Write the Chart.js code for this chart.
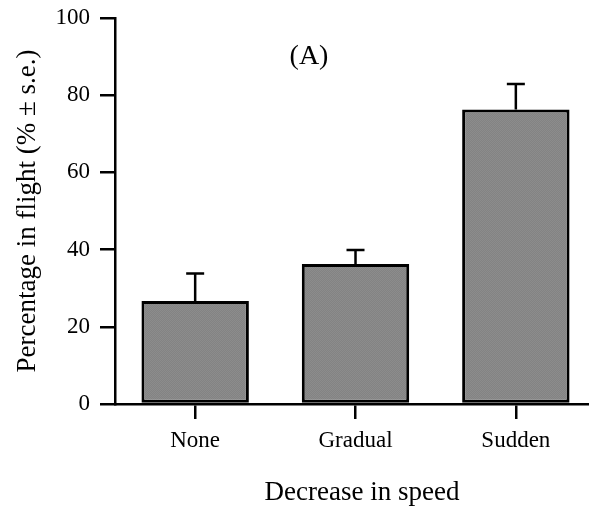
<!DOCTYPE html>
<html>
<head>
<meta charset="utf-8">
<script src="https://cdn.jsdelivr.net/npm/chart.js@4/dist/chart.umd.min.js"></script>
<style>
html,body{margin:0;padding:0;background:#fff;}
#wrap{width:589px;height:520px;}
</style>
</head>
<body>
<div id="wrap"><canvas id="c" width="589" height="520"></canvas></div>
<script>
const categories = ["None", "Gradual", "Sudden"];
const means = [26.7, 36.3, 76.3];
const stdErrors = [7.1, 3.6, 6.6];
const yTicks = [0, 20, 40, 60, 80, 100];
const panelLabel = "(A)";
const xTitle = "Decrease in speed";
const yTitle = "Percentage in flight (% \u00b1 s.e.)";

const FONT = "'Liberation Serif', 'Times New Roman', serif";

// textured gray fill
const pc = document.createElement('canvas');
pc.width = 2; pc.height = 2;
const pctx = pc.getContext('2d');
pctx.fillStyle = '#838383'; pctx.fillRect(0,0,2,2);
pctx.fillStyle = '#8c8c8c'; pctx.fillRect(0,0,1,1); pctx.fillRect(1,1,1,1);
const fillPattern = document.getElementById('c').getContext('2d').createPattern(pc, 'repeat');

const errorBars = {
  id: 'errorBars',
  afterDatasetsDraw(chart) {
    const {ctx, scales: {x, y}} = chart;
    ctx.save();
    ctx.strokeStyle = '#000';
    ctx.lineWidth = 2.5;
    ctx.lineCap = 'butt';
    means.forEach((m, i) => {
      const px = x.getPixelForValue(i);
      const y0 = y.getPixelForValue(m);
      const y1 = y.getPixelForValue(m + stdErrors[i]);
      ctx.beginPath();
      ctx.moveTo(px, y0);
      ctx.lineTo(px, y1);
      ctx.moveTo(px - 9, y1);
      ctx.lineTo(px + 9, y1);
      ctx.stroke();
    });
    ctx.restore();
  }
};

const texts = {
  id: 'texts',
  afterDraw(chart) {
    const {ctx, scales: {x, y}} = chart;
    ctx.save();
    ctx.fillStyle = '#000';
    ctx.textAlign = 'center';
    ctx.textBaseline = 'middle';
    ctx.font = "28px " + FONT;
    ctx.fillText(panelLabel, x.getPixelForValue(0.71), y.getPixelForValue(90));
    ctx.font = "27px " + FONT;
    ctx.fillText(xTitle, 362, 493);
    ctx.restore();
  }
};

new Chart(document.getElementById('c'), {
  type: 'bar',
  data: {
    datasets: [{
      data: categories.map((c, i) => ({x: i, y: means[i]})),
      backgroundColor: fillPattern,
      borderColor: '#000',
      borderWidth: 3,
      borderSkipped: false,
      categoryPercentage: 1,
      barPercentage: 0.67
    }]
  },
  options: {
    responsive: false,
    animation: false,
    devicePixelRatio: 1,
    layout: {padding: {top: 18, right: 1, left: 0, bottom: 0}},
    plugins: {legend: {display: false}, tooltip: {enabled: false}, title: {display: false}},
    scales: {
      x: {
        type: 'linear',
        offset: false,
        min: -0.5,
        max: 2.45,
        afterBuildTicks: s => { s.ticks = categories.map((c, i) => ({value: i})); },
        afterFit: s => { s.height = 116; s.paddingLeft = 0; s.paddingRight = 0; },
        ticks: {
          callback: v => categories[v],
          color: '#000',
          font: {family: FONT, size: 23},
          padding: 8,
          maxRotation: 0,
          autoSkip: false
        },
        grid: {offset: false, drawOnChartArea: false, drawTicks: true, tickLength: 15, tickColor: '#000', lineWidth: 2.5},
        border: {display: true, color: '#000', width: 2.5},
        title: {display: false}
      },
      y: {
        min: 0,
        max: 100,
        afterBuildTicks: s => { s.ticks = yTicks.map(v => ({value: v})); },
        afterFit: s => { s.width = 115; s.paddingTop = 0; s.paddingBottom = 0; },
        ticks: {
          color: '#000',
          font: {family: FONT, size: 23},
          padding: 10
        },
        grid: {drawOnChartArea: false, drawTicks: true, tickLength: 15, tickColor: '#000', lineWidth: 2.5},
        border: {display: true, color: '#000', width: 2.5},
        title: {display: true, text: yTitle, color: '#000', font: {family: FONT, size: 27}, padding: {top: 12, bottom: 0}}
      }
    }
  },
  plugins: [errorBars, texts]
});
</script>
</body>
</html>
